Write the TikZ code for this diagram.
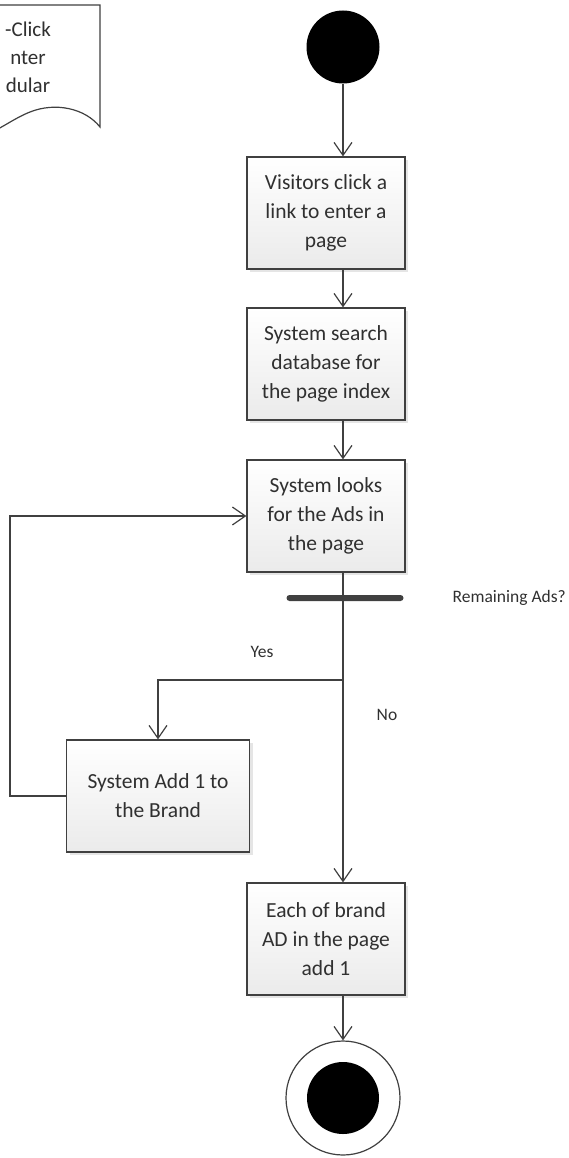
\documentclass[tikz,border=0pt]{standalone}
\usepackage{fontspec}
\setmainfont{Carlito}
\usetikzlibrary{arrows.meta,shadows}

\definecolor{linec}{HTML}{404040}
\definecolor{txtc}{HTML}{303030}

\tikzset{
  act/.style={draw=linec, line width=1.2pt, top color=white, bottom color=gray!16,
    minimum width=158pt, minimum height=112pt, align=center, text=txtc,
    inner sep=2pt, font=\fontsize{21.5}{29}\selectfont,
    drop shadow={shadow xshift=3pt, shadow yshift=-3pt, fill=gray!40, opacity=.5}},
  flow/.style={draw=linec, line width=1.2pt, -{Straight Barb[length=13pt,width=18pt]}},
  plain/.style={draw=linec, line width=1.2pt},
  lbl/.style={text=txtc, font=\fontsize{17.5}{20}\selectfont}
}

\begin{document}
\begin{tikzpicture}[x=1pt, y=-1pt]
    \useasboundingbox (0,0) rectangle (568,1158);
    % note in the corner
    \begin{scope}
      \clip (0,0) rectangle (568,1158);
      \draw[plain, fill=white] (-60,5) -- (100,5) -- (100,127)
        .. controls (85,108) and (55,102) .. (30,112)
        .. controls (15,118) and (5,126) .. (-10,133) -- (-60,133) -- cycle;
      \node[text=txtc, font=\fontsize{21}{28}\selectfont, align=center] (note) at (28,57) {-Click\\nter\\dular};
    \end{scope}
    % activity nodes
    \node[circle, fill=black, minimum size=73pt, inner sep=0pt] (start) at (343,47) {};
    \node[act] (visit) at (326,213) {Visitors click a\\link to enter a\\page};
    \node[act] (search) at (326,364) {System search\\database for\\the page index};
    \node[act] (looks) at (326,516) {System looks\\for the Ads in\\the page};
    \node[rounded corners=3pt, fill=linec, minimum width=117pt, minimum height=6pt, inner sep=0pt] (bar) at (345,598) {};
    \node[lbl, anchor=east, inner sep=0pt] (remain) at (566,598) {Remaining Ads?};
    \node[act, minimum width=183pt] (addbrand) at (158,796) {System Add 1 to\\the Brand};
    \node[act] (each) at (326,939) {Each of brand\\AD in the page\\add 1};
    \node[circle, draw=linec, line width=1.2pt, fill=white, minimum size=114pt, inner sep=0pt] (final) at (343,1098) {};
    \node[circle, fill=black, minimum size=72pt, inner sep=0pt] (finaldot) at (final) {};
    \node[lbl] (yes) at (262,652) {Yes};
    \node[lbl] (no) at (387,715) {No};
    \coordinate (split) at (343,680);
    \coordinate (loop) at (10,796);
    % connectors
    \draw[flow] (start) -- (start |- visit.north);
    \draw[flow] (visit.south -| start) -- (start |- search.north);
    \draw[flow] (search.south -| start) -- (start |- looks.north);
    \draw[plain] (looks.south -| start) -- (start |- bar.center);
    \draw[flow] (start |- bar.center) -- (start |- each.north);
    \draw[flow] (split) -| (addbrand.north);
    \draw[flow] (addbrand.west) -- (loop) |- (looks.west);
    \draw[flow] (each.south -| start) -- (final.north);
\end{tikzpicture}
\end{document}
